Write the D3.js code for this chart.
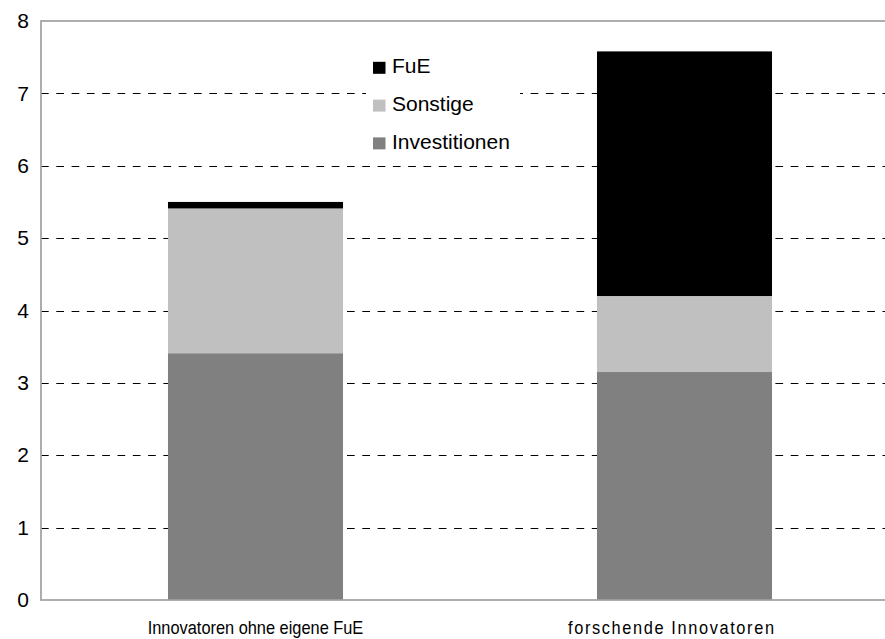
<!DOCTYPE html>
<html>
<head>
<meta charset="utf-8">
<script src="https://cdn.jsdelivr.net/npm/d3@7"></script>
<style>
  html, body { margin: 0; padding: 0; background: #fff; }
  svg { display: block; font-family: "Liberation Sans", Arial, sans-serif; }
</style>
</head>
<body>
<svg id="chart" width="885" height="639"></svg>
<script>
// data
const categories = ['Innovatoren ohne eigene FuE', 'forschende Innovatoren']
const seriesNames = ['Investitionen', 'Sonstige', 'FuE']
const investitionen = [3.41, 3.15]
const sonstige = [2.0, 1.05]
const fue = [0.09, 3.38]
const yTicks = [0, 1, 2, 3, 4, 5, 6, 7, 8]

const colors = { Investitionen: '#808080', Sonstige: '#c0c0c0', FuE: '#000000' }
// x labels look condensed in the reference; second one letter-spaced and shifted left
const labelSqueeze = 0.885
const labelLen = [null, 206]
const labelShift = [0, -13.5]

const W = 885, H = 639
const M = { left: 41, top: 21, right: -14, bottom: 39 }
const pw = W - M.left - M.right, ph = H - M.top - M.bottom

const svg = d3.select('#chart')
const g = svg.append('g').attr('transform', 'translate(' + M.left + ',' + M.top + ')')

const x = d3.scaleBand().domain(categories).range([0, pw]).paddingInner(0.592).paddingOuter(0.296)
const y = d3.scaleLinear().domain([0, 8]).range([ph, 0])

const rows = categories.map(function (c, i) {
    return { cat: c, Investitionen: investitionen[i], Sonstige: sonstige[i], FuE: fue[i] }
})
const stacked = d3.stack().keys(seriesNames)(rows)

// gridlines
g.append('g').selectAll('line').data(yTicks.filter(function (t) { return t > 0 && t < 8 })).join('line')
    .attr('x1', 0).attr('x2', pw)
    .attr('y1', function (d) { return Math.round(y(d)) + 0.5 }).attr('y2', function (d) { return Math.round(y(d)) + 0.5 })
    .attr('stroke', '#000').attr('stroke-width', 1).attr('stroke-dasharray', '7.7,7.6')

// bars
g.append('g').selectAll('g').data(stacked).join('g')
    .attr('fill', function (s) { return colors[s.key] })
    .selectAll('rect').data(function (s) { return s }).join('rect')
    .attr('x', function (d) { return x(d.data.cat) })
    .attr('width', x.bandwidth())
    .attr('y', function (d) { return y(d[1]) })
    .attr('height', function (d) { return y(d[0]) - y(d[1]) })

// frame
g.append('rect').attr('x', 0).attr('y', 0).attr('width', pw).attr('height', ph)
    .attr('fill', 'none').attr('stroke', '#a0a0a0').attr('stroke-width', 1.7)

// y axis labels
const ya = g.append('g').call(d3.axisLeft(y).tickValues(yTicks).tickSize(0).tickPadding(12).tickFormat(d3.format('d')))
ya.select('.domain').remove()
ya.selectAll('text').attr('font-size', '21px').attr('font-family', '"Liberation Sans", Arial, sans-serif').attr('fill', '#000')

// x axis labels
const xa = g.append('g').attr('transform', 'translate(0,' + ph + ')')
    .call(d3.axisBottom(x).tickSize(0).tickPadding(21))
xa.select('.domain').remove()
xa.selectAll('text').attr('font-size', '18.5px').attr('font-family', '"Liberation Sans", Arial, sans-serif').attr('fill', '#000')
    .attr('transform', 'scale(' + labelSqueeze + ',1)')
    .attr('dx', function (d, i) { return labelShift[i] / labelSqueeze })
    .each(function (d, i) {
        if (labelLen[i]) d3.select(this).attr('textLength', labelLen[i] / labelSqueeze).attr('lengthAdjust', 'spacing')
    })

// legend
const legendItems = ['FuE', 'Sonstige', 'Investitionen']
const lg = g.append('g').attr('transform', 'translate(' + (366 - M.left) + ',' + (50 - M.top) + ')')
lg.append('rect').attr('width', 154).attr('height', 108).attr('fill', '#fff')
const li = lg.selectAll('g.item').data(legendItems).join('g').attr('class', 'item')
    .attr('transform', function (d, i) { return 'translate(7,' + (23.3 + i * 37.8) + ')' })
li.append('rect').attr('x', 0).attr('y', -11.5).attr('width', 12.5).attr('height', 12)
    .attr('fill', function (d) { return colors[d] })
li.append('text').attr('x', 19).attr('y', 0).attr('font-size', '21px').attr('fill', '#000').text(function (d) { return d })
</script>
</body>
</html>
